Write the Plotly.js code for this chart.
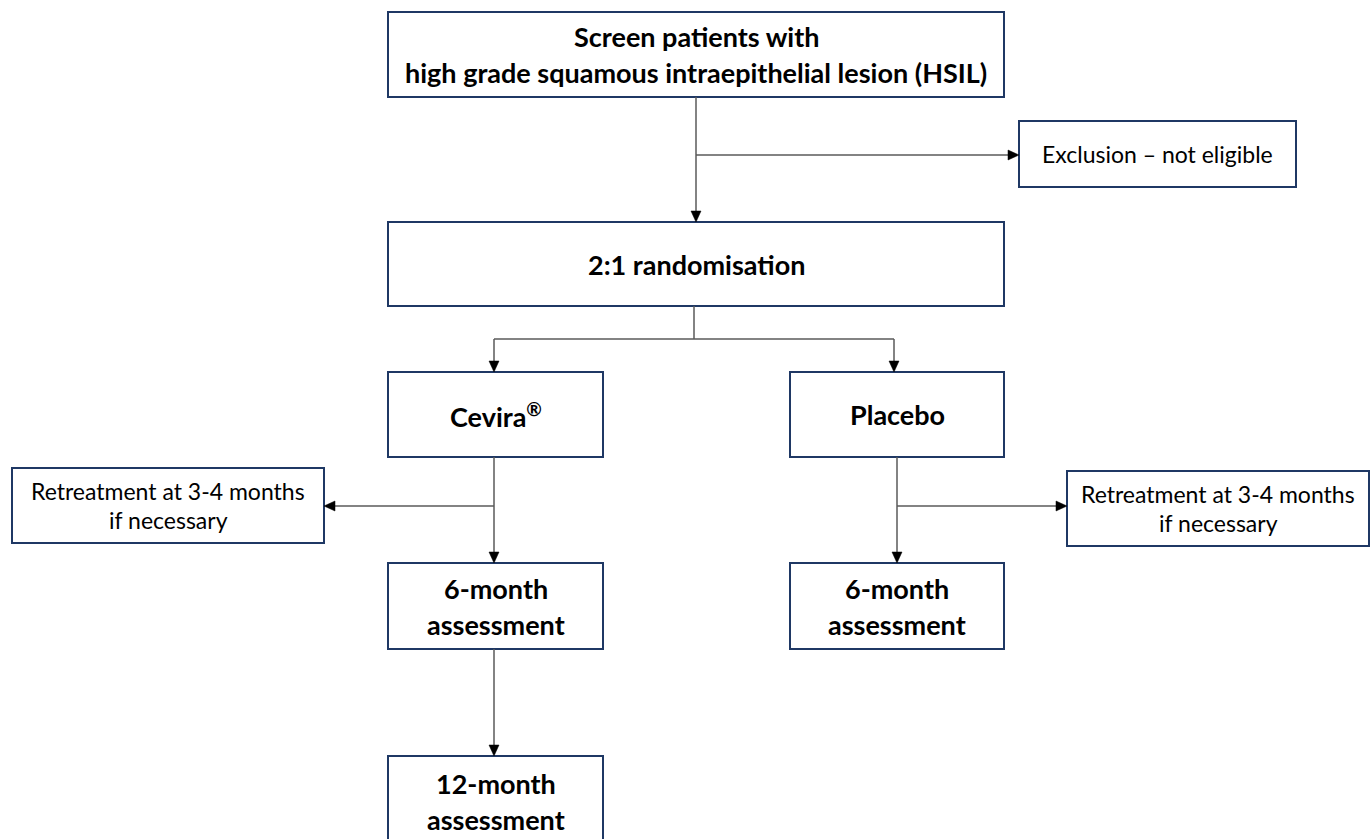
<!DOCTYPE html>
<html><head><meta charset="utf-8">
<script src="https://cdn.plot.ly/plotly-3.0.1.min.js"></script>
<style>html,body{margin:0;padding:0;background:#fff}#chart{width:1370px;height:839px}</style>
</head><body><div id="chart"></div>
<script>
// ---- content ----
const nodeIds = ['screen','exclusion','random','cevira','placebo','retreatL','retreatR','sixL','sixR','twelve'];
const nodeText = [
  ['Screen patients with','high grade squamous intraepithelial lesion (HSIL)'],
  ['Exclusion – not eligible'],
  ['2:1 randomisation'],
  ['Cevira<sup>®</sup>'],
  ['Placebo'],
  ['Retreatment at 3-4 months','if necessary'],
  ['Retreatment at 3-4 months','if necessary'],
  ['6-month','assessment'],
  ['6-month','assessment'],
  ['12-month','assessment']
];
const nodeBold = [true,false,true,true,true,false,false,true,true,true];

// ---- geometry (pixels: x0,x1,y0,y1) ----
const boxGeom = {
  screen:[388,1004,12,97], exclusion:[1019,1296,121,187], random:[388,1004,222,306],
  cevira:[388,603,372,457], placebo:[790,1004,372,457],
  retreatL:[12,324,468,543], retreatR:[1067,1369,471,546],
  sixL:[388,603,563,649], sixR:[790,1004,563,649], twelve:[388,603,756,850]
};
const textCenter = {twelve:801};
const edges = [
  [[696,97],[696,222],true],
  [[696,155],[1019,155],true],
  [[694,306],[694,339],false],
  [[494,339],[894,339],false],
  [[494,339],[494,372],true],
  [[894,339],[894,372],true],
  [[494,457],[494,563],true],
  [[494,506],[324,506],true],
  [[897,457],[897,563],true],
  [[897,506],[1067,506],true],
  [[494,649],[494,756],true]
];

const shapes = [], annotations = [];
const BORDER = '#1F3864', LINE = '#5a5a5a';
nodeIds.forEach((id,i)=>{
  const [x0,x1,y0,y1] = boxGeom[id];
  shapes.push({type:'rect',xref:'x',yref:'y',x0,x1,y0,y1,line:{color:BORDER,width:2},fillcolor:'#fff',layer:'above'});
  const lines = nodeText[i];
  const cy = textCenter[id] !== undefined ? textCenter[id] : (y0+y1)/2;
  const bold = nodeBold[i];
  const gap = bold ? 36 : 29;
  lines.forEach((t,j)=>{
    const y = cy + (j-(lines.length-1)/2)*gap;
    annotations.push({xref:'x',yref:'y',x:(x0+x1)/2,y:y,text:bold?'<b>'+t+'</b>':t,showarrow:false,
      xanchor:'center',yanchor:'middle',font:{family:'Lato, Carlito, sans-serif',size:bold?27:23,color:'#000'}});
  });
});
edges.forEach(([a,b,arrow])=>{
  let [xa,ya]=a,[xb,yb]=b;
  const L=11,W=5;
  const dx=Math.sign(xb-xa), dy=Math.sign(yb-ya);
  const ex = arrow ? xb-dx*L : xb, ey = arrow ? yb-dy*L : yb;
  shapes.push({type:'line',xref:'x',yref:'y',x0:xa,y0:ya,x1:ex,y1:ey,line:{color:LINE,width:1.5}});
  if(arrow){
    let p;
    if(dy!==0) p=`M${xb-W},${yb-dy*L} L${xb+W},${yb-dy*L} L${xb},${yb} Z`;
    else p=`M${xb-dx*L},${yb-W} L${xb-dx*L},${yb+W} L${xb},${yb} Z`;
    shapes.push({type:'path',xref:'x',yref:'y',path:p,fillcolor:'#000',line:{color:'#000',width:0.5}});
  }
});

Plotly.newPlot('chart',[],{
  width:1370,height:839,margin:{l:0,r:0,t:0,b:0},
  paper_bgcolor:'#fff',plot_bgcolor:'#fff',
  xaxis:{range:[0,1370],visible:false,fixedrange:true},
  yaxis:{range:[839,0],visible:false,fixedrange:true},
  shapes,annotations,showlegend:false
},{staticPlot:true});
</script></body></html>
